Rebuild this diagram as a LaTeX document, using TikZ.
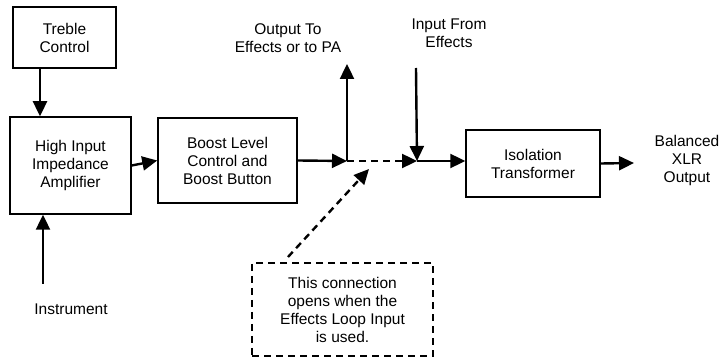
\documentclass[tikz,border=0pt]{standalone}
\usepackage{fontspec}
\setmainfont{Liberation Sans}
\usetikzlibrary{arrows.meta,positioning}

\tikzset{
  block/.style={draw, line width=1.5pt, align=center, inner sep=0pt},
  label/.style={align=center, inner sep=0pt},
  arr/.style={line width=2.4pt, -{Triangle[length=15pt,width=14pt]}},
  dasharr/.style={arr, dash pattern=on 7pt off 5pt},
}

\begin{document}
\begin{tikzpicture}[x=1pt, y=-1pt, font=\fontsize{15.5}{18}\selectfont]
      \useasboundingbox (0,0) rectangle (724,358);
      % blocks
      \node (treble) [block, minimum width=103pt, minimum height=61pt] at (64.5,37.5) {Treble\\Control};
      \node (amp) [block, minimum width=121pt, minimum height=97pt] at (70.5,165.5) {High Input\\Impedance\\Amplifier};
      \node (boost) [block, minimum width=139pt, minimum height=85pt] at (227.5,160.5) {Boost Level\\Control and\\Boost Button};
      \node (iso) [block, minimum width=134pt, minimum height=67pt] at (533,163.5) {Isolation\\Transformer};
      \node (note) [block, dash pattern=on 7pt off 5pt, minimum width=181pt, minimum height=93pt] at (342.5,309.5) {This connection\\opens when the\\Effects Loop Input\\is used.};
      % labels
      \node (fxout) [label] at (288,38) {Output To\\Effects or to PA};
      \node (fxin) [label] at (449,33) {Input From\\Effects};
      \node (xlr) [label] at (687,160) {Balanced\\XLR\\Output};
      \node (instr) [label] at (71,309) {Instrument};
      % junctions and free ends
      \coordinate (j1) at (347,161);
      \coordinate (j2) at (417,161);
      \coordinate (uptip) at (347,64);
      \coordinate (intop) at (416,68);
      \coordinate (xlrend) at (634,163);
      \coordinate (instrtop) at (43,284);
      \coordinate (notetop) at (288,257);
      \coordinate (notetip) at (369,169);
      % connectors
      \draw [arr] ([xshift=-24.5pt]treble.south) to ([xshift=-24.5pt]treble.south |- amp.north);
      \draw [arr] (instrtop) to (instrtop |- amp.south);
      \draw [arr] (amp.east) to (boost.west);
      \draw [arr] (boost.east) to (j1);
      \draw [arr] (j1) to (uptip);
      \draw [dasharr] (j1) to (j2);
      \draw [arr] (intop) to (j2);
      \draw [arr] (j2) to (j2 -| iso.west);
      \draw [arr] (iso.east) to (xlrend);
      \draw [dasharr] (notetop) to (notetip);
\end{tikzpicture}
\end{document}
